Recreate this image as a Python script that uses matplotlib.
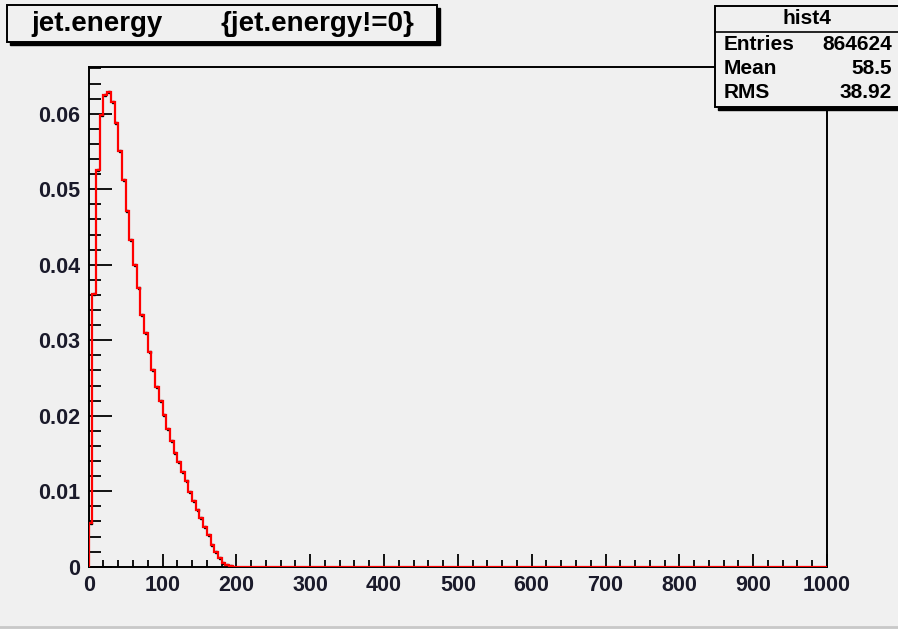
import matplotlib
matplotlib.use('Agg')
import matplotlib.pyplot as plt
from matplotlib.patches import Rectangle
from matplotlib.ticker import MultipleLocator, FuncFormatter
import numpy as np

# histogram settings: 200 bins of width 5 over 0..1000
x_min, x_max, n_bins = 0, 1000, 200

# bin contents (normalised), non-zero part
counts_head = [
    0.0058, 0.0361, 0.0526, 0.0598, 0.0625, 0.0629, 0.0616, 0.0588, 0.0551, 0.0512,
    0.0471, 0.0433, 0.0400, 0.0369, 0.0333, 0.0309, 0.0285, 0.0261, 0.0238, 0.0220,
    0.0201, 0.0182, 0.0166, 0.0151, 0.0139, 0.0125, 0.0113, 0.0099, 0.0087, 0.0075,
    0.0065, 0.0053, 0.0042, 0.0029, 0.0020, 0.0011, 0.0005, 0.0002, 0.0001, 0.0,
]
counts = counts_head + [0.0] * (n_bins - len(counts_head))

x_ticks = [0, 100, 200, 300, 400, 500, 600, 700, 800, 900, 1000]
y_ticks = [0, 0.01, 0.02, 0.03, 0.04, 0.05, 0.06]

title_left = "jet.energy"
title_right = "{jet.energy!=0}"
stats_name = "hist4"
stats_rows = [("Entries", "864624"), ("Mean", "58.5"), ("RMS", "38.92")]

W, H = 898, 629
bg = '#f0f0f0'
plt.rcParams['font.family'] = ['Liberation Sans', 'DejaVu Sans']
plt.rcParams['font.weight'] = 'bold'

fig = plt.figure(figsize=(W / 100, H / 100), dpi=100, facecolor=bg)


def fx(x):
    return x / W


def fy(y):
    return 1 - y / H


# axes frame in pixels
left, right, top, bottom = 88.7, 827, 67, 566.7
ax = fig.add_axes([fx(left), fy(bottom), fx(right - left), (bottom - top) / H])
ax.set_facecolor(bg)

edges = np.linspace(x_min, x_max, n_bins + 1)
centers = 0.5 * (edges[:-1] + edges[1:])
vals = np.array(counts)
nz = vals > 0
ax.plot(centers[nz], vals[nz], 's', color='black', ms=2.0, zorder=2)
ax.stairs(vals, edges, color='red', lw=1.6, zorder=3)

ax.set_xlim(x_min, x_max)
ax.set_ylim(0, (bottom - top) / 7550.0)
ax.set_xticks(x_ticks)
ax.set_yticks(y_ticks)
ax.xaxis.set_minor_locator(MultipleLocator(20))
ax.yaxis.set_minor_locator(MultipleLocator(0.002))
ax.yaxis.set_major_formatter(FuncFormatter(lambda v, p: '0' if v == 0 else f'{v:.2f}'))

ax.tick_params(axis='both', which='both', direction='in', colors='black', width=1.3)
ax.tick_params(axis='both', which='major', labelsize=15.5, labelcolor='#1a1a2a')
ax.tick_params(axis='y', which='major', length=16.5, pad=6)
ax.tick_params(axis='y', which='minor', length=8.5)
ax.tick_params(axis='x', which='major', length=9.5, pad=6)
ax.tick_params(axis='x', which='minor', length=5)
for lab in ax.get_xticklabels() + ax.get_yticklabels():
    lab.set_fontweight('bold')
for s in ax.spines.values():
    s.set_linewidth(1.4)

# title box with shadow
sh = 3
fig.patches.append(Rectangle((fx(7 + sh), fy(42 + sh)), fx(430), (37) / H,
                             transform=fig.transFigure, facecolor='black', edgecolor='black'))
fig.patches.append(Rectangle((fx(7), fy(42)), fx(430), (37) / H,
                             transform=fig.transFigure, facecolor=bg, edgecolor='black', lw=1.4))
fig.text(fx(97), fy(24), title_left, ha='center', va='center', fontsize=20, fontweight='bold')
fig.text(fx(317), fy(24), title_right, ha='center', va='center', fontsize=20, fontweight='bold')

# stats box
fig.patches.append(Rectangle((fx(715 + sh), fy(107 + sh)), fx(200), (101) / H,
                             transform=fig.transFigure, facecolor='black', edgecolor='black'))
fig.patches.append(Rectangle((fx(715), fy(107)), fx(200), (101) / H,
                             transform=fig.transFigure, facecolor=bg, edgecolor='black', lw=1.4))
fig.lines.append(plt.Line2D([fx(715), 1], [fy(32), fy(32)], transform=fig.transFigure,
                            color='black', lw=1.2))
fig.text(fx(807), fy(19), stats_name, ha='center', va='center', fontsize=15, fontweight='bold')
for i, (k, v) in enumerate(stats_rows):
    yy = fy(44 + 24.5 * i)
    fig.text(fx(724), yy, k, ha='left', va='center', fontsize=15, fontweight='bold')
    fig.text(fx(892), yy, v, ha='right', va='center', fontsize=15, fontweight='bold')

# bottom window edge
fig.lines.append(plt.Line2D([0, 1], [fy(626.5), fy(626.5)], transform=fig.transFigure,
                            color='#c8c8c8', lw=2))

fig.savefig('out.png', dpi=100, facecolor=bg)
